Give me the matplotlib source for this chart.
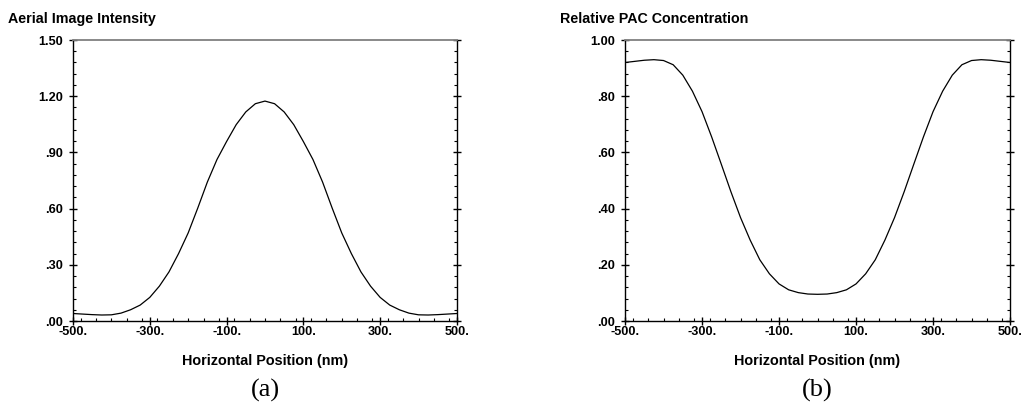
import matplotlib
matplotlib.use('Agg')
import matplotlib.pyplot as plt
from matplotlib.ticker import MultipleLocator, FuncFormatter

# Horizontal position (nm), shared by both panels
position = [-500, -475, -450, -425, -400, -375, -350, -325, -300, -275, -250,
            -225, -200, -175, -150, -125, -100, -75, -50, -25, 0,
            25, 50, 75, 100, 125, 150, 175, 200, 225, 250,
            275, 300, 325, 350, 375, 400, 425, 450, 475, 500]

# (a) aerial image intensity
intensity = [0.040, 0.037, 0.034, 0.032, 0.033, 0.042, 0.060, 0.085, 0.126, 0.186, 0.262,
             0.360, 0.470, 0.603, 0.742, 0.862, 0.958, 1.048, 1.116, 1.160, 1.174,
             1.160, 1.116, 1.048, 0.958, 0.862, 0.742, 0.603, 0.470, 0.360, 0.262,
             0.186, 0.126, 0.085, 0.060, 0.042, 0.033, 0.032, 0.034, 0.037, 0.040]

# (b) relative PAC concentration
pac = [0.920, 0.924, 0.928, 0.930, 0.927, 0.912, 0.875, 0.818, 0.745, 0.655, 0.558,
       0.460, 0.368, 0.288, 0.218, 0.168, 0.132, 0.111, 0.101, 0.096, 0.095,
       0.096, 0.101, 0.111, 0.132, 0.168, 0.218, 0.288, 0.368, 0.460, 0.558,
       0.655, 0.745, 0.818, 0.875, 0.912, 0.927, 0.930, 0.928, 0.924, 0.920]

x_ticks = [-500, -300, -100, 100, 300, 500]
font = 'Liberation Sans'

def y_fmt(v, pos):
    s = '{:.2f}'.format(v)
    return s[1:] if s.startswith('0') else s

def x_fmt(v, pos):
    return '{:.0f}.'.format(v)

def style_axes(ax, ymax, ystep, yminor):
    ax.set_xlim(-500, 500)
    ax.set_ylim(0, ymax)
    ax.set_xticks(x_ticks)
    ax.yaxis.set_major_locator(MultipleLocator(ystep))
    ax.xaxis.set_minor_locator(MultipleLocator(40))
    ax.yaxis.set_minor_locator(MultipleLocator(yminor))
    ax.xaxis.set_major_formatter(FuncFormatter(x_fmt))
    ax.yaxis.set_major_formatter(FuncFormatter(y_fmt))
    ax.tick_params(which='major', direction='inout', length=5.8, width=1.0,
                   top=False, right=True, labelsize=9.2)
    ax.tick_params(axis='x', which='major', pad=0.5)
    ax.tick_params(axis='y', which='major', pad=4.5)
    ax.tick_params(which='minor', direction='in', length=2.5, width=0.8,
                   top=False, right=True)
    for lab in ax.get_xticklabels() + ax.get_yticklabels():
        lab.set_fontfamily(font)
        lab.set_fontweight('bold')
    ax.spines['top'].set_color('#808080')
    ax.spines['top'].set_linewidth(1.3)
    for s in ['left', 'right', 'bottom']:
        ax.spines[s].set_linewidth(1.0)
    ax.set_xlabel('Horizontal Position (nm)', fontsize=10.4, fontweight='bold',
                  fontfamily=font, labelpad=11.5)

fig = plt.figure(figsize=(10.25, 4.05), dpi=100)
ax1 = fig.add_axes([0.0712, 0.2074, 0.3746, 0.6938])
ax2 = fig.add_axes([0.6098, 0.2074, 0.3756, 0.6938])

ax1.plot(position, intensity, color='black', linewidth=0.9)
ax2.plot(position, pac, color='black', linewidth=0.9)

style_axes(ax1, 1.5, 0.3, 0.06)
style_axes(ax2, 1.0, 0.2, 0.04)

fig.text(8 / 1025, 1 - 19 / 405, 'Aerial Image Intensity', fontsize=10.3,
         fontweight='bold', fontfamily=font, va='center', ha='left')
fig.text(560 / 1025, 1 - 19 / 405, 'Relative PAC Concentration', fontsize=10.3,
         fontweight='bold', fontfamily=font, va='center', ha='left')

fig.text(265 / 1025, 1 - 390 / 405, '(a)', fontsize=19,
         fontfamily='Liberation Serif', va='center', ha='center')
fig.text(817 / 1025, 1 - 390 / 405, '(b)', fontsize=19,
         fontfamily='Liberation Serif', va='center', ha='center')

fig.savefig('out.png', dpi=100)
